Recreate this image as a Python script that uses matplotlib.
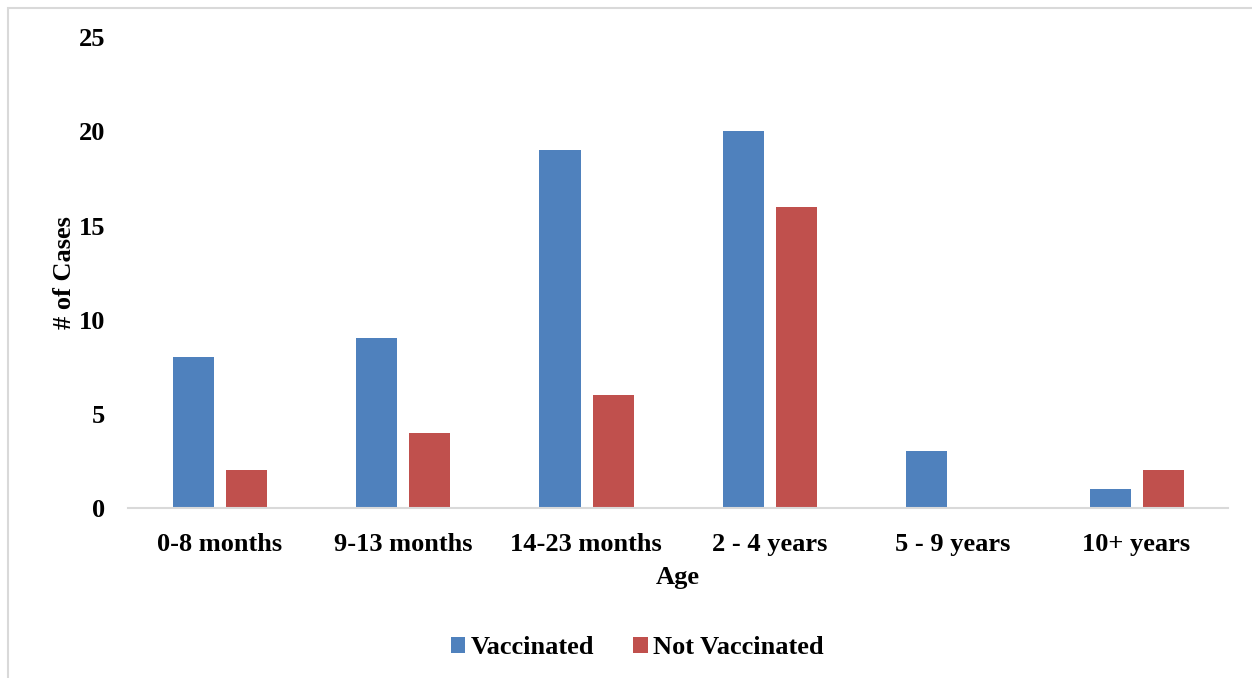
import matplotlib.pyplot as plt
import numpy as np
from matplotlib.patches import Rectangle

ages = ['0-8 months', '9-13 months', '14-23 months', '2 - 4 years', '5 - 9 years', '10+ years']
vaccinated = [8, 9, 19, 20, 3, 1]
not_vaccinated = [2, 4, 6, 16, 0, 2]

plt.rcParams['font.family'] = ['Liberation Serif', 'DejaVu Serif']
plt.rcParams['font.weight'] = 'bold'
FS = 19

fig = plt.figure(figsize=(12.52, 6.78), dpi=100)
ax = fig.add_axes([0.102, 0.251, 0.879, 0.694])

x = np.arange(len(ages))
w = 0.224
ax.bar(x - 0.143, vaccinated, w, color='#4F81BD', label='Vaccinated')
ax.bar(x + 0.147, not_vaccinated, w, color='#C0504D', label='Not Vaccinated')

ax.set_xlim(-0.5, len(ages) - 0.5)
ax.set_ylim(0, 25)
ax.set_yticks([0, 5, 10, 15, 20, 25])
ax.set_xticks(x)
ax.set_xticklabels(ages, fontsize=FS, fontweight='bold')
ax.tick_params(axis='y', labelsize=FS, length=0, pad=16)
ax.tick_params(axis='x', length=0, pad=18)
for lab in ax.get_yticklabels():
    lab.set_fontweight('bold')

for s in ['top', 'right', 'left']:
    ax.spines[s].set_visible(False)
ax.spines['bottom'].set_color('#d9d9d9')
ax.spines['bottom'].set_linewidth(1.5)

ax.set_xlabel('Age', fontsize=FS, fontweight='bold')
ax.set_ylabel('# of Cases', fontsize=FS, fontweight='bold')
ax.xaxis.set_label_coords(0.5, -0.1486)
ax.xaxis.label.set_va('center')
ax.yaxis.set_label_coords(-0.057, 0.5)
ax.yaxis.label.set_va('center')

h, l = ax.get_legend_handles_labels()
fig.legend(h, l, loc='center', bbox_to_anchor=(0.509, 0.045), ncol=2, frameon=False,
           fontsize=FS, handlelength=0.55, handleheight=0.55, handletextpad=0.2,
           columnspacing=1.5)

fig.patches.append(Rectangle((8 / 1252, -0.1), 1.2, 1 - 8 / 678 + 0.1,
                             transform=fig.transFigure, fill=False,
                             edgecolor='#d9d9d9', linewidth=1.5))

fig.savefig('out.png', dpi=100)
